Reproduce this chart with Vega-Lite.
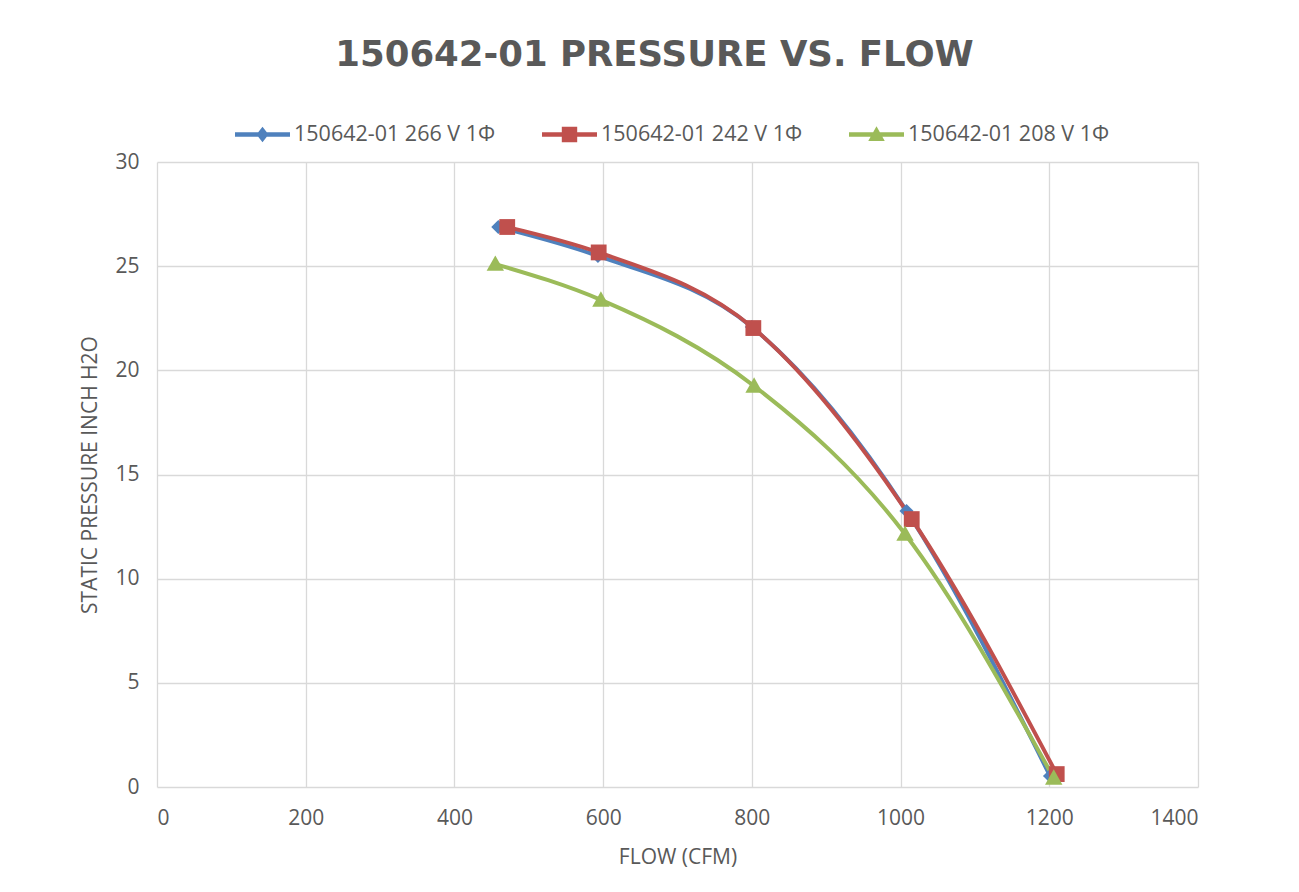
{
  "$schema": "https://vega.github.io/schema/vega-lite/v6.json",
  "width": 1041,
  "height": 625,
  "autosize": "none",
  "padding": {"left": 157, "top": 162, "right": 101, "bottom": 105},
  "background": "white",
  "title": {
    "text": "150642-01 PRESSURE VS. FLOW",
    "font": "DejaVu Sans",
    "fontSize": 35.5,
    "fontWeight": "bold",
    "color": "#595959",
    "anchor": "middle",
    "frame": "group",
    "dx": -23,
    "offset": 34
  },
  "data": {
    "values": [
      {"series": "150642-01 266 V 1Φ", "flow": 459, "pressure": 26.88},
      {"series": "150642-01 266 V 1Φ", "flow": 593, "pressure": 25.49},
      {"series": "150642-01 266 V 1Φ", "flow": 800, "pressure": 22.08},
      {"series": "150642-01 266 V 1Φ", "flow": 1008, "pressure": 13.25},
      {"series": "150642-01 266 V 1Φ", "flow": 1201, "pressure": 0.53},
      {"series": "150642-01 242 V 1Φ", "flow": 471, "pressure": 26.88},
      {"series": "150642-01 242 V 1Φ", "flow": 594, "pressure": 25.66},
      {"series": "150642-01 242 V 1Φ", "flow": 802, "pressure": 22.03},
      {"series": "150642-01 242 V 1Φ", "flow": 1015, "pressure": 12.86},
      {"series": "150642-01 242 V 1Φ", "flow": 1210, "pressure": 0.62},
      {"series": "150642-01 208 V 1Φ", "flow": 455, "pressure": 25.1},
      {"series": "150642-01 208 V 1Φ", "flow": 597, "pressure": 23.38},
      {"series": "150642-01 208 V 1Φ", "flow": 803, "pressure": 19.25},
      {"series": "150642-01 208 V 1Φ", "flow": 1006, "pressure": 12.14},
      {"series": "150642-01 208 V 1Φ", "flow": 1206, "pressure": 0.43}
    ]
  },
  "encoding": {
    "x": {
      "field": "flow", "type": "quantitative",
      "scale": {"domain": [0, 1400], "nice": false},
      "axis": {"values": [0, 200, 400, 600, 800, 1000, 1200, 1400], "format": "d", "title": "FLOW (CFM)"}
    },
    "y": {
      "field": "pressure", "type": "quantitative",
      "scale": {"domain": [0, 30], "nice": false},
      "axis": {"values": [0, 5, 10, 15, 20, 25, 30], "format": "d", "title": "STATIC PRESSURE INCH H2O"}
    },
    "color": {
      "field": "series", "type": "nominal",
      "scale": {
        "domain": ["150642-01 266 V 1Φ", "150642-01 242 V 1Φ", "150642-01 208 V 1Φ"],
        "range": ["#4F81BD", "#C0504D", "#9BBB59"]
      },
      "legend": {
        "title": null,
        "orient": "none",
        "direction": "horizontal",
        "legendX": 78,
        "legendY": -55,
        "symbolSize": 3025,
        "symbolStrokeWidth": 0,
        "symbolOpacity": 1,
        "labelFont": "Open Sans",
        "labelFontSize": 21.5,
        "labelLimit": 400,
        "labelColor": "#595959",
        "labelOffset": 4,
        "columnPadding": 46,
        "encode": {
          "symbols": {
            "update": {
              "shape": {"signal": "datum.value == '150642-01 266 V 1Φ' ? 'M-1,-0.08H1V0.08H-1Z M0,-0.28L0.22,0L0,0.28L-0.22,0Z' : datum.value == '150642-01 242 V 1Φ' ? 'M-1,-0.08H1V0.08H-1Z M-0.28,-0.28H0.28V0.28H-0.28Z' : 'M-1,-0.08H1V0.08H-1Z M0,-0.3L0.3,0.24H-0.3Z'"},
              "fill": {"scale": "color", "field": "value"},
              "opacity": {"value": 1},
              "strokeWidth": {"value": 0}
            }
          }
        }
      }
    }
  },
  "layer": [
    {
      "mark": {"type": "line", "interpolate": "monotone", "strokeWidth": 4}
    },
    {
      "transform": [{"filter": "datum.series == '150642-01 266 V 1Φ'"}],
      "mark": {"type": "point", "shape": "diamond", "filled": true, "opacity": 1, "strokeWidth": 0, "size": 200}
    },
    {
      "transform": [{"filter": "datum.series == '150642-01 242 V 1Φ'"}],
      "mark": {"type": "point", "shape": "square", "filled": true, "opacity": 1, "strokeWidth": 0, "size": 250}
    },
    {
      "transform": [{"filter": "datum.series == '150642-01 208 V 1Φ'"}],
      "mark": {"type": "point", "shape": "M0,-1.1L1.1,0.85H-1.1Z", "filled": true, "opacity": 1, "strokeWidth": 0, "size": 250}
    }
  ],
  "config": {
    "view": {"stroke": null},
    "axis": {
      "grid": true,
      "gridColor": "#d9d9d9",
      "gridWidth": 1.3,
      "domain": false,
      "ticks": false,
      "labelFont": "Open Sans",
      "labelFontSize": 21,
      "labelColor": "#595959",
      "titleFont": "Open Sans",
      "titleFontSize": 21,
      "titleFontWeight": "normal",
      "titleColor": "#595959"
    },
    "axisX": {"labelPadding": 20, "titlePadding": 18},
    "axisY": {"labelPadding": 18, "titlePadding": 14}
  }
}
